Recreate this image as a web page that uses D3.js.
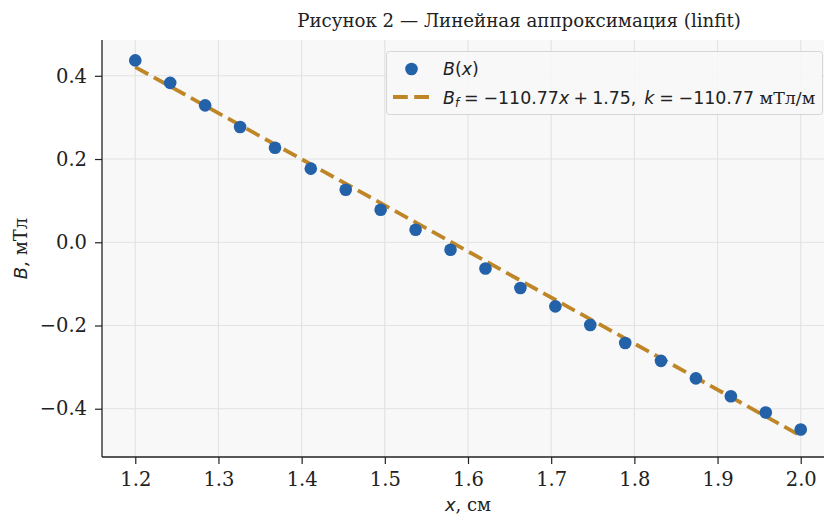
<!DOCTYPE html>
<html>
<head>
<meta charset="utf-8">
<script src="https://cdn.jsdelivr.net/npm/d3@7"></script>
<style>
  html, body { margin: 0; padding: 0; background: #ffffff; }
  svg { display: block; }
</style>
</head>
<body>
<div id="chart"></div>
<script>
// Measured points B(x)
const xValues = [1.2, 1.242, 1.284, 1.326, 1.368, 1.411, 1.453, 1.495, 1.537, 1.579,
                 1.621, 1.663, 1.705, 1.747, 1.789, 1.832, 1.874, 1.916, 1.958, 2.0];
const bValues = [0.437, 0.383, 0.329, 0.277, 0.227, 0.177, 0.126, 0.078, 0.030, -0.018,
                 -0.063, -0.110, -0.154, -0.199, -0.242, -0.285, -0.327, -0.370, -0.409, -0.450];

// Fitted line endpoints
const fitX = [1.2, 2.0];
const fitY = [0.421, -0.465];

const xTicks = [1.2, 1.3, 1.4, 1.5, 1.6, 1.7, 1.8, 1.9, 2.0];
const yTicks = [-0.4, -0.2, 0.0, 0.2, 0.4];

const width = 824, height = 516;
const margin = { top: 40, left: 102, right: 834, bottom: 457 };

const blue = '#2361a9';
const gold = '#bf8628';
const serif = '"DejaVu Serif", serif';
const sans = '"DejaVu Sans", sans-serif';
const dash = '14.8,6.4';

const svg = d3.select('#chart')
    .append('svg')
    .attr('width', width)
    .attr('height', height);

const x = d3.scaleLinear().domain([1.16, 2.04]).range([margin.left, margin.right]);
const y = d3.scaleLinear().domain([-0.516, 0.486]).range([margin.bottom, margin.top]);

// Axes background
svg.append('rect')
    .attr('x', margin.left)
    .attr('y', margin.top)
    .attr('width', margin.right - margin.left)
    .attr('height', margin.bottom - margin.top)
    .attr('fill', '#f8f8f8');

// Grid
const grid = svg.append('g');
grid.selectAll('line.gx')
    .data(xTicks)
    .enter()
    .append('line')
    .attr('x1', d => x(d)).attr('x2', d => x(d))
    .attr('y1', margin.top).attr('y2', margin.bottom)
    .attr('stroke', '#e2e2e2').attr('stroke-width', 1.1);
grid.selectAll('line.gy')
    .data(yTicks)
    .enter()
    .append('line')
    .attr('x1', margin.left).attr('x2', margin.right)
    .attr('y1', d => y(d)).attr('y2', d => y(d))
    .attr('stroke', '#e2e2e2').attr('stroke-width', 1.1);

// Axes
const fmt = d => d3.format('.1f')(d).replace('-', '\u2212');

const xAxis = svg.append('g')
    .attr('transform', `translate(0,${margin.bottom})`)
    .call(d3.axisBottom(x).tickValues(xTicks).tickFormat(fmt).tickSize(7).tickPadding(8));
const yAxis = svg.append('g')
    .attr('transform', `translate(${margin.left},0)`)
    .call(d3.axisLeft(y).tickValues(yTicks).tickFormat(fmt).tickSize(7).tickPadding(8));

[xAxis, yAxis].forEach(g => {
    g.select('.domain').attr('stroke', '#222').attr('stroke-width', 1.3);
    g.selectAll('.tick line').attr('stroke', '#222').attr('stroke-width', 1.2);
    g.selectAll('.tick text')
        .attr('fill', '#222')
        .style('font-family', serif)
        .style('font-size', '19.5px');
});
xAxis.select('.domain').attr('d', `M${margin.left},0H${width}`);
yAxis.select('.domain').attr('d', `M0,${margin.top}V${margin.bottom}`);

// Fit line
svg.append('path')
    .datum(fitX.map((d, i) => [d, fitY[i]]))
    .attr('d', d3.line().x(d => x(d[0])).y(d => y(d[1])))
    .attr('fill', 'none')
    .attr('stroke', gold)
    .attr('stroke-width', 3.8)
    .attr('stroke-dasharray', dash);

// Points
svg.append('g')
    .selectAll('circle')
    .data(xValues.map((d, i) => [d, bValues[i]]))
    .enter()
    .append('circle')
    .attr('cx', d => x(d[0]))
    .attr('cy', d => y(d[1]))
    .attr('r', 6.3)
    .attr('fill', blue);

// Title
svg.append('text')
    .attr('x', 519)
    .attr('y', 27)
    .attr('text-anchor', 'middle')
    .style('font-family', serif)
    .style('font-size', '18.2px')
    .attr('fill', '#222')
    .text('Рисунок 2 — Линейная аппроксимация (linfit)');

// Axis labels
const xLabel = svg.append('text')
    .attr('x', 468)
    .attr('y', 511)
    .attr('text-anchor', 'middle')
    .attr('fill', '#222')
    .style('font-size', '18px');
xLabel.append('tspan').style('font-family', sans).style('font-style', 'italic').text('x');
xLabel.append('tspan').style('font-family', serif).text(', см');

const yLabel = svg.append('text')
    .attr('transform', `translate(27,${(margin.top + margin.bottom) / 2}) rotate(-90)`)
    .attr('text-anchor', 'middle')
    .attr('fill', '#222')
    .style('font-size', '18px');
yLabel.append('tspan').style('font-family', sans).style('font-style', 'italic').text('B');
yLabel.append('tspan').style('font-family', serif).text(', мТл');

// Legend
const legend = svg.append('g');
legend.append('rect')
    .attr('x', 386.5)
    .attr('y', 51.5)
    .attr('width', 436)
    .attr('height', 63)
    .attr('rx', 3)
    .attr('fill', '#f8f8f8')
    .attr('fill-opacity', 0.85)
    .attr('stroke', '#d6d6d6')
    .attr('stroke-width', 1);

legend.append('circle')
    .attr('cx', 411.5)
    .attr('cy', 69)
    .attr('r', 6.3)
    .attr('fill', blue);
legend.append('line')
    .attr('x1', 393).attr('x2', 430)
    .attr('y1', 97).attr('y2', 97)
    .attr('stroke', gold)
    .attr('stroke-width', 3.8)
    .attr('stroke-dasharray', dash);

const t1 = legend.append('text')
    .attr('x', 443).attr('y', 74.5)
    .attr('fill', '#222')
    .style('font-family', sans)
    .style('font-size', '17.4px');
t1.append('tspan').style('font-style', 'italic').text('B');
t1.append('tspan').text('(');
t1.append('tspan').style('font-style', 'italic').text('x');
t1.append('tspan').text(')');

// math-like label: [text, italic, dx in em, dy, size]
const t2parts = [
    ['B', true, 0, 0],
    ['f', true, 0, 3, '12px'],
    ['=', false, 0.28, -3],
    ['\u2212110.77', false, 0.28, 0],
    ['x', true, 0, 0],
    ['+', false, 0.24, 0],
    ['1.75,', false, 0.24, 0],
    ['k', true, 0.45, 0],
    ['=', false, 0.28, 0],
    ['\u2212110.77', false, 0.28, 0]
];
const t2 = legend.append('text')
    .attr('x', 443).attr('y', 104)
    .attr('fill', '#222')
    .style('font-family', sans)
    .style('font-size', '17.4px');
t2parts.forEach(p => {
    const ts = t2.append('tspan')
        .attr('dx', p[2] + 'em')
        .attr('dy', p[3])
        .style('font-style', p[1] ? 'italic' : 'normal')
        .text(p[0]);
    if (p[4]) ts.style('font-size', p[4]);
});
t2.append('tspan').attr('dx', '0.32em').style('font-family', serif).text('мТл/м');
</script>
</body>
</html>
